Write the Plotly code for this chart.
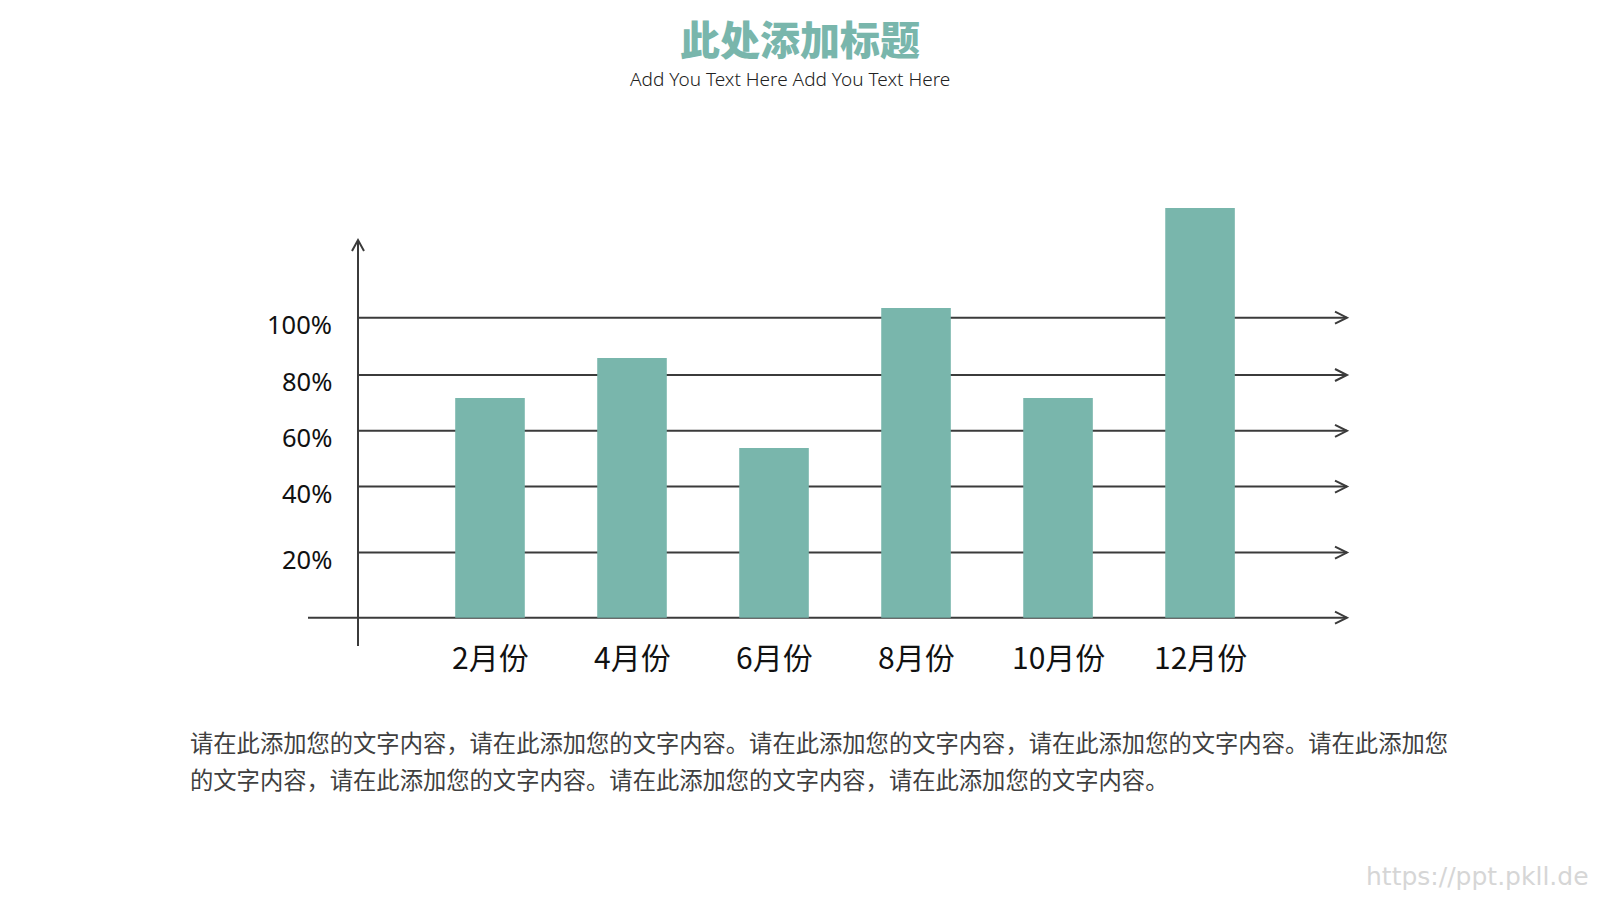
import plotly.graph_objects as go

# ---- data ----
categories = ["2月份", "4月份", "6月份", "8月份", "10月份", "12月份"]
values = [73.2, 86.6, 56.6, 103.2, 73.2, 136.6]
grid_levels = [21.7, 43.7, 62.3, 80.9, 100.0]
grid_labels = ["20%", "40%", "60%", "80%", "100%"]

title_text = "此处添加标题"
subtitle_text = "Add You Text Here Add You Text Here"
body_line1 = "请在此添加您的文字内容，请在此添加您的文字内容。请在此添加您的文字内容，请在此添加您的文字内容。请在此添加您"
body_line2 = "的文字内容，请在此添加您的文字内容。请在此添加您的文字内容，请在此添加您的文字内容。"
watermark = "https://ppt.pkll.de"

# ---- style ----
W, H = 1600, 900
BAR_COLOR = "#79b6ac"
LINE_COLOR = "#3b3b3b"
CJK = "Noto Sans CJK SC"


def px(xp):
    return xp / W


def py(yp):
    return 1 - yp / H


fig = go.Figure()
fig.add_trace(go.Bar(
    x=categories, y=values, width=0.49,
    marker=dict(color=BAR_COLOR, line=dict(width=0)),
    hoverinfo="skip",
))

shapes = []
AXIS_X = 358
TIP_X = 1347
BASE_START = 308

# horizontal grid lines with arrow heads
levels_all = [0.0] + grid_levels
for lv in levels_all:
    x0 = BASE_START if lv == 0 else AXIS_X
    shapes.append(dict(type="line", xref="paper", yref="y", x0=px(x0), x1=px(TIP_X),
                       y0=lv, y1=lv, line=dict(color=LINE_COLOR, width=2), layer="below"))
    shapes.append(dict(type="path", xref="paper", yref="y", xsizemode="pixel", ysizemode="pixel",
                       xanchor=px(TIP_X), yanchor=lv, path="M -12 6 L 0 0 L -12 -6",
                       line=dict(color=LINE_COLOR, width=2), layer="above"))

# vertical axis with arrow
shapes.append(dict(type="line", xref="paper", yref="paper", x0=px(AXIS_X), x1=px(AXIS_X),
                   y0=py(646), y1=py(240), line=dict(color=LINE_COLOR, width=2)))
shapes.append(dict(type="path", xref="paper", yref="paper", xsizemode="pixel", ysizemode="pixel",
                   xanchor=px(AXIS_X), yanchor=py(240), path="M -6 -11 L 0 0 L 6 -11",
                   line=dict(color=LINE_COLOR, width=2)))

annotations = []
for lv, lab in zip(grid_levels, grid_labels):
    annotations.append(dict(x=px(334), xref="paper", y=lv, yref="y", text=lab, showarrow=False,
                            xanchor="right", yanchor="middle", yshift=-6,
                            font=dict(family="Noto Sans", size=25.5, color="#111111")))
for c in categories:
    annotations.append(dict(x=c, xref="x", y=py(656), yref="paper", text=c, showarrow=False,
                            xanchor="center", yanchor="middle",
                            font=dict(family=CJK, size=30, color="#111111")))

annotations.append(dict(x=0.5, xref="paper", y=py(38), yref="paper", text=title_text, showarrow=False,
                        xanchor="center", yanchor="middle",
                        font=dict(family=CJK, size=40, color=BAR_COLOR, weight=900)))
annotations.append(dict(x=px(790), xref="paper", y=py(79), yref="paper", text=subtitle_text,
                        showarrow=False, xanchor="center", yanchor="middle",
                        font=dict(family="Noto Sans", size=19, color="#222222", weight=300)))
annotations.append(dict(x=px(188), xref="paper", y=py(742), yref="paper", text=body_line1,
                        showarrow=False, xanchor="left", yanchor="middle",
                        font=dict(family=CJK, size=23.3, color="#3f3f3f")))
annotations.append(dict(x=px(188), xref="paper", y=py(779), yref="paper", text=body_line2,
                        showarrow=False, xanchor="left", yanchor="middle",
                        font=dict(family=CJK, size=23.3, color="#3f3f3f")))
annotations.append(dict(x=px(1591), xref="paper", y=py(876), yref="paper", text=watermark,
                        showarrow=False, xanchor="right", yanchor="middle",
                        font=dict(family="DejaVu Sans", size=25, color="#d6d6d6")))

fig.update_layout(
    width=W, height=H,
    margin=dict(l=0, r=0, t=0, b=0),
    paper_bgcolor="white", plot_bgcolor="white",
    showlegend=False,
    shapes=shapes, annotations=annotations,
    xaxis=dict(domain=[px(300), px(1350)], range=[-1.338, 6.056], type="category",
               showgrid=False, zeroline=False, showticklabels=False, showline=False, fixedrange=True),
    yaxis=dict(domain=[py(660), py(190)], range=[-14.1, 142.57],
               showgrid=False, zeroline=False, showticklabels=False, showline=False, fixedrange=True),
)

fig.write_html("out.html")
